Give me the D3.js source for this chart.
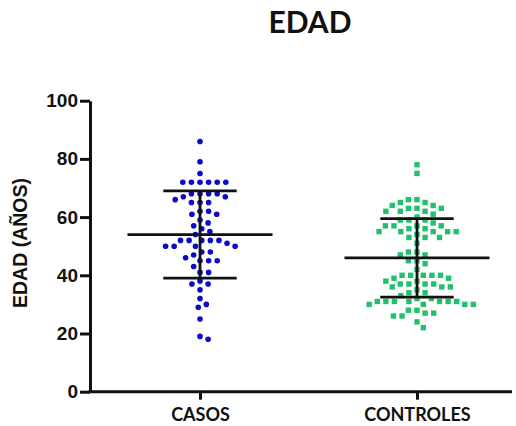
<!DOCTYPE html>
<html>
<head>
<meta charset="utf-8">
<script src="https://cdn.jsdelivr.net/npm/d3@7"></script>
<style>
  body { margin: 0; background: #fff; }
  svg { display: block; }
</style>
</head>
<body>
<svg id="chart" width="516" height="426"></svg>
<script>
'use strict';

const categories = ['CASOS', 'CONTROLES'];
const casos = [86, 79, 75, 72, 72, 72, 72, 72, 72, 68, 68, 68, 68, 67, 67, 66, 65, 65, 65,
  62, 62, 61, 61, 59, 58, 57, 56, 55, 54, 52, 52, 52, 52, 52, 51, 50, 50, 50, 50,
  48, 48, 47, 46, 45, 45, 45, 43, 41, 41, 38, 37, 37, 35, 32, 30, 29, 25, 19, 18];
const controles = [78, 75, 66, 66, 65, 65, 64, 64, 63, 63, 63, 62, 62, 62, 61, 60,
  59, 59, 59, 58, 57, 57, 57, 57, 56, 56, 55, 55, 55, 55, 55, 54, 53, 53, 53, 51,
  48, 48, 47, 47, 45, 45, 44, 42, 40, 40, 40, 40, 40, 39, 39, 38, 38, 37, 37, 37, 37,
  36, 36, 36, 35, 34, 34, 33, 32, 32, 31, 31, 31, 31, 31, 31, 31, 30, 30, 30, 30,
  28, 28, 27, 27, 26, 26, 24, 22];
const groupMeans = [54, 46];
const groupSDs = [15, 13.5];
const yTicks = [0, 20, 40, 60, 80, 100];

const blue = '#0a0ac8';
const green = '#22c06c';

const svg = d3.select('#chart');
const axisLeftX = 90;
const axisRightX = 512;

const y = d3.scaleLinear().domain([0, 100]).range([391.7, 100.7]);
const x = d3.scalePoint().domain(categories).range([axisLeftX, 527]).padding(0.507);

// simple beeswarm: closest free spot to the centre line
function swarm(values, dist) {
  const placed = [];
  const sorted = values.slice().sort((a, b) => b - a);
  let flip = 1;
  sorted.forEach(v => {
    const py = y(v);
    const near = placed.filter(p => Math.abs(p.y - py) < dist);
    const cands = [0];
    near.forEach(p => {
      const dx = Math.sqrt(dist * dist - (p.y - py) * (p.y - py));
      cands.push(p.x + dx, p.x - dx);
    });
    const ok = cands.filter(c => near.every(p => Math.hypot(p.x - c, p.y - py) >= dist - 0.01));
    ok.sort((a, b) => (Math.abs(a) - Math.abs(b)) || (flip * (b - a)));
    placed.push({ x: ok[0], y: py, v });
    flip = -flip;
  });
  return placed;
}

const gPoints = svg.append('g');

gPoints.selectAll('circle')
  .data(swarm(casos, 8.6))
  .enter()
  .append('circle')
  .attr('cx', d => x('CASOS') + d.x)
  .attr('cy', d => d.y)
  .attr('r', 2.8)
  .attr('fill', blue);

const sq = 5.4;
gPoints.selectAll('rect')
  .data(swarm(controles, 8.6))
  .enter()
  .append('rect')
  .attr('x', d => x('CONTROLES') + d.x - sq / 2)
  .attr('y', d => d.y - sq / 2)
  .attr('width', sq)
  .attr('height', sq)
  .attr('fill', green);

// mean and SD bars
const meanHalf = 72.5;
const capHalf = 36.7;
const gBars = svg.append('g').attr('stroke', '#111').attr('stroke-width', 2.8);
categories.forEach((c, i) => {
  const cx = x(c);
  const m = groupMeans[i], s = groupSDs[i];
  gBars.append('line').attr('x1', cx - meanHalf).attr('x2', cx + meanHalf)
    .attr('y1', y(m)).attr('y2', y(m));
  gBars.append('line').attr('x1', cx).attr('x2', cx)
    .attr('y1', y(m + s)).attr('y2', y(m - s));
  [m + s, m - s].forEach(v => {
    gBars.append('line').attr('x1', cx - capHalf).attr('x2', cx + capHalf)
      .attr('y1', y(v)).attr('y2', y(v));
  });
});

// axes
const yAxis = svg.append('g')
  .attr('transform', `translate(${axisLeftX},0)`)
  .call(d3.axisLeft(y).tickValues(yTicks).tickSize(10).tickSizeOuter(0).tickPadding(2));
yAxis.select('.domain').attr('stroke', '#111').attr('stroke-width', 3);
yAxis.selectAll('.tick line').attr('stroke', '#111').attr('stroke-width', 3);
yAxis.selectAll('.tick text')
  .attr('fill', '#111')
  .style('font-family', '"Liberation Sans", Arial, sans-serif')
  .style('font-weight', 'bold')
  .style('font-size', '19px');

const xAxis = svg.append('g')
  .attr('transform', `translate(0,${y(0)})`)
  .call(d3.axisBottom(x).tickSize(8).tickSizeOuter(0).tickPadding(9));
xAxis.select('.domain')
  .attr('d', `M${axisLeftX - 1.5},0H${axisRightX}`)
  .attr('stroke', '#111').attr('stroke-width', 3);
xAxis.selectAll('.tick line').attr('stroke', '#111').attr('stroke-width', 3);
xAxis.selectAll('.tick text')
  .attr('fill', '#111')
  .style('font-family', 'Lato, "Open Sans", sans-serif')
  .style('font-weight', 'bold')
  .style('font-size', '18px');

// title and axis label
svg.append('text')
  .attr('x', 310).attr('y', 33)
  .attr('text-anchor', 'middle')
  .attr('fill', '#111')
  .style('font-family', 'Lato, "Open Sans", sans-serif')
  .style('font-weight', 'bold')
  .style('font-size', '30px')
  .text('EDAD');

svg.append('text')
  .attr('transform', 'translate(27,243) rotate(-90)')
  .attr('text-anchor', 'middle')
  .attr('fill', '#111')
  .style('font-family', '"Liberation Sans", Arial, sans-serif')
  .style('font-weight', 'bold')
  .style('font-size', '19.5px')
  .text('EDAD (AÑOS)');
</script>
</body>
</html>
